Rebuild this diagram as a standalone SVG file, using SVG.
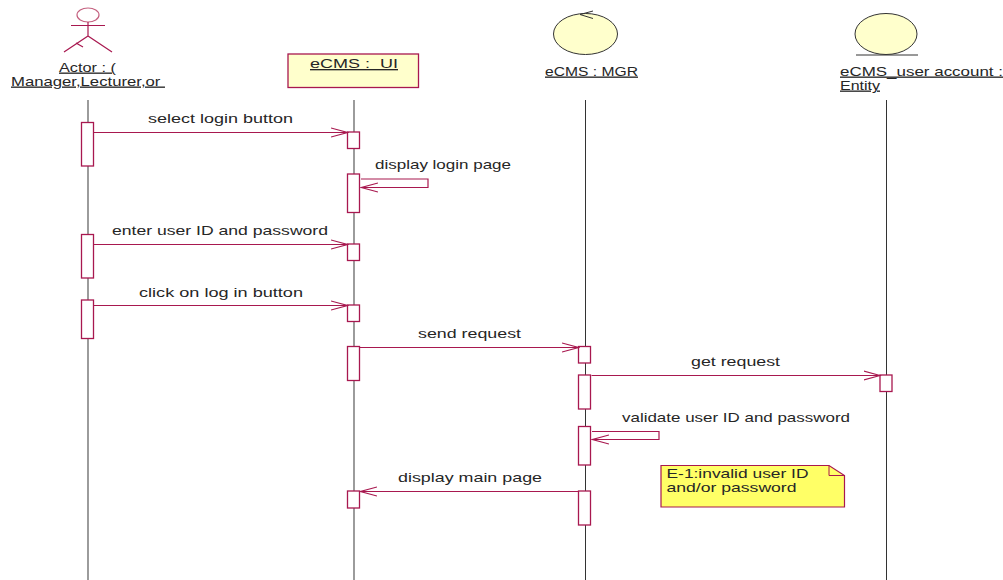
<svg xmlns="http://www.w3.org/2000/svg" width="1003" height="580" viewBox="0 0 1003 580">
<style>
text{font-family:"Liberation Sans",Arial,sans-serif;font-size:13.4px;fill:#262626}
.u{text-decoration:underline}
.l{stroke:#666;stroke-width:1.3;fill:none}
.d{stroke:#333;stroke-width:1;fill:none}
.c{stroke:#a8184f;stroke-width:1.2;fill:none}
.p{stroke:#c4607f;stroke-width:1.2;fill:none}
.a{stroke:#a8184f;stroke-width:1.3;fill:#fff}
.n{stroke:#a8184f;stroke-width:1.3;fill:#ffffcc}
</style>
<defs>
<marker id="o" markerUnits="userSpaceOnUse" markerWidth="18" markerHeight="12" refX="16.500" refY="6" orient="auto"><path d="M0 1.500 L16.500 6 L0 10.500" fill="none" stroke="#a8184f" stroke-width="1.1"/></marker>
</defs>
<rect width="1003" height="580" fill="#fff"/>
<g id="lifelines">
<line class="l" x1="88" y1="100" x2="88" y2="580"/>
<line class="l" x1="354" y1="100" x2="354" y2="580"/>
<line class="d" x1="585.500" y1="100" x2="585.500" y2="580"/>
<line class="d" x1="886.500" y1="100" x2="886.500" y2="580"/>
</g>
<g id="actor">
<ellipse class="p" cx="88" cy="15" rx="11" ry="7"/>
<path class="c" d="M71 25.500H105M88 22V36M64 52L88 36L112 52M76 43L83 47"/>
<text class="u" x="59" y="71.500" textLength="57" lengthAdjust="spacingAndGlyphs">Actor : (</text>
<text class="u" x="11" y="85.500" textLength="154" lengthAdjust="spacingAndGlyphs" xml:space="preserve">Manager,Lecturer,or </text>
</g>
<g id="ui">
<rect class="n" x="288" y="54" width="130.500" height="33.500"/>
<text class="u" x="310" y="68" textLength="88" lengthAdjust="spacingAndGlyphs" xml:space="preserve">eCMS :  UI</text>
</g>
<g id="mgr">
<ellipse cx="585.500" cy="34" rx="32" ry="20.500" fill="#ffffcc" stroke="#333" stroke-width="1"/>
<path d="M593 11L580 14.500L593 18.500" fill="none" stroke="#333" stroke-width="1"/>
<text class="u" x="545" y="75.500" textLength="93" lengthAdjust="spacingAndGlyphs">eCMS : MGR</text>
</g>
<g id="entity">
<ellipse cx="886" cy="34" rx="31" ry="20.500" fill="#ffffcc" stroke="#333" stroke-width="1"/>
<line x1="856" y1="55" x2="918" y2="55" stroke="#333" stroke-width="1"/>
<text class="u" x="840" y="75.500" textLength="163" lengthAdjust="spacingAndGlyphs">eCMS_user account :</text>
<text class="u" x="840" y="89.500" textLength="40" lengthAdjust="spacingAndGlyphs">Entity</text>
</g>
<g id="activations">
<rect class="a" x="81.500" y="122.500" width="12" height="43.500"/>
<rect class="a" x="347.500" y="132" width="12" height="16.500"/>
<rect class="a" x="347.500" y="174" width="12" height="38.500"/>
<rect class="a" x="81.500" y="234.500" width="12" height="43.500"/>
<rect class="a" x="347.500" y="244" width="12" height="16.500"/>
<rect class="a" x="81.500" y="300" width="12" height="38.500"/>
<rect class="a" x="347.500" y="305" width="12" height="16.500"/>
<rect class="a" x="347.500" y="346.500" width="12" height="34"/>
<rect class="a" x="578.500" y="346.500" width="12" height="16.500"/>
<rect class="a" x="578.500" y="375" width="12" height="34"/>
<rect class="a" x="880" y="375" width="12" height="16.500"/>
<rect class="a" x="578.500" y="426.500" width="12" height="38.500"/>
<rect class="a" x="347.500" y="491" width="12" height="17"/>
<rect class="a" x="578.500" y="491" width="12" height="34"/>
</g>
<g id="connectors">
<line class="c" x1="94" y1="132.500" x2="347.500" y2="132.500" marker-end="url(#o)"/>
<path class="c" d="M361 179H428V187.500H361.500" marker-end="url(#o)"/>
<line class="c" x1="94" y1="244.500" x2="347.500" y2="244.500" marker-end="url(#o)"/>
<line class="c" x1="94" y1="305.500" x2="347.500" y2="305.500" marker-end="url(#o)"/>
<line class="c" x1="360" y1="347.500" x2="578.500" y2="347.500" marker-end="url(#o)"/>
<line class="c" x1="591.500" y1="375.500" x2="880" y2="375.500" marker-end="url(#o)"/>
<path class="c" d="M592 431.500H659V439.500H592.500" marker-end="url(#o)"/>
<line class="c" x1="578.500" y1="491.500" x2="360.500" y2="491.500" marker-end="url(#o)"/>
</g>
<g id="labels">
<text x="148" y="123" textLength="145" lengthAdjust="spacingAndGlyphs">select login button</text>
<text x="375" y="169" textLength="136" lengthAdjust="spacingAndGlyphs">display login page</text>
<text x="112" y="235" textLength="216" lengthAdjust="spacingAndGlyphs">enter user ID and password</text>
<text x="139" y="296.500" textLength="164" lengthAdjust="spacingAndGlyphs">click on log in button</text>
<text x="418" y="338" textLength="103" lengthAdjust="spacingAndGlyphs">send request</text>
<text x="691" y="366" textLength="89" lengthAdjust="spacingAndGlyphs">get request</text>
<text x="622" y="421.500" textLength="228" lengthAdjust="spacingAndGlyphs">validate user ID and password</text>
<text x="398" y="482" textLength="144" lengthAdjust="spacingAndGlyphs">display main page</text>
</g>
<g id="note">
<path d="M661 465.500H829L844.500 475.500V507H661Z" fill="#ffff66" stroke="#a8184f" stroke-width="1.2"/>
<path d="M829 465.500V475.500H844.500" fill="none" stroke="#a8184f" stroke-width="1"/>
<text x="666.500" y="478" textLength="142" lengthAdjust="spacingAndGlyphs">E-1:invalid user ID</text>
<text x="666.500" y="492" textLength="130" lengthAdjust="spacingAndGlyphs">and/or password</text>
</g>
</svg>
